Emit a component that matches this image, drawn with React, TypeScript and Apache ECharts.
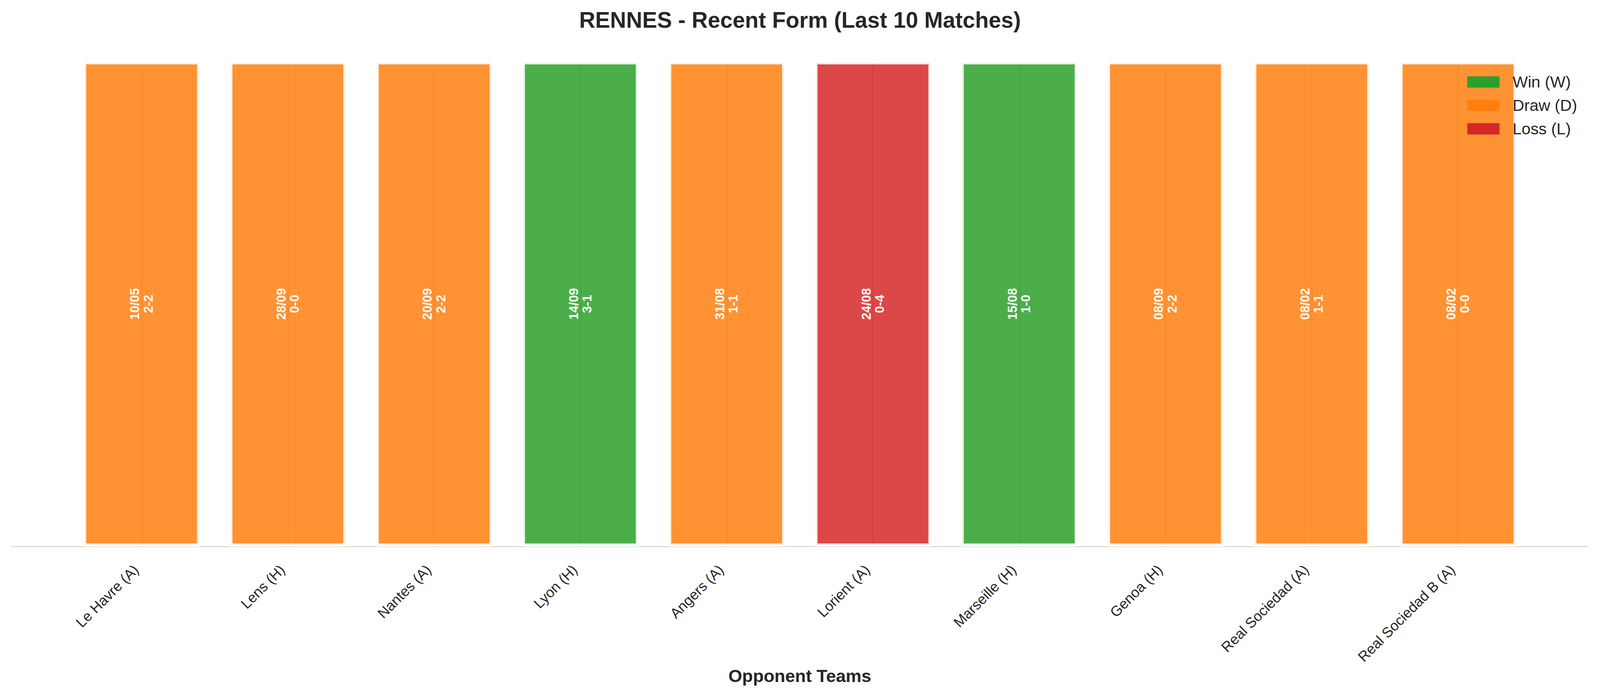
import { useEffect, useRef } from "react";
import * as echarts from "echarts";

// opponents, most recent first
const teams = [
  "Le Havre (A)",
  "Lens (H)",
  "Nantes (A)",
  "Lyon (H)",
  "Angers (A)",
  "Lorient (A)",
  "Marseille (H)",
  "Genoa (H)",
  "Real Sociedad (A)",
  "Real Sociedad B (A)",
];
const dates = ["10/05", "28/09", "20/09", "14/09", "31/08", "24/08", "15/08", "08/09", "08/02", "08/02"];
const scores = ["2-2", "0-0", "2-2", "3-1", "1-1", "0-4", "1-0", "2-2", "1-1", "0-0"];
const results = ["D", "D", "D", "W", "D", "L", "W", "D", "D", "D"];
const heights = [1, 1, 1, 1, 1, 1, 1, 1, 1, 1];

const resultKeys = ["W", "D", "L"];
const resultNames: Record<string, string> = { W: "Win (W)", D: "Draw (D)", L: "Loss (L)" };
const resultRgb: Record<string, string> = { W: "44,160,44", D: "255,127,14", L: "214,39,40" };

const FONT = "'Liberation Sans', Arial, sans-serif";
const DARK = "#262626";
const BASE_W = 4170;
const BASE_H = 1770;

const App = () => {
  const chartRef = useRef<HTMLDivElement | null>(null);
  // the window may be narrower than the 4170px design, so scale x to fit
  const width = Math.min(window.innerWidth || BASE_W, BASE_W);
  const k = width / BASE_W;

  useEffect(() => {
    if (!chartRef.current) return;
    const chart = echarts.init(chartRef.current, null, { renderer: "svg" });
    const fs = (n: number) => Math.round(n * k * 10) / 10;

    const series = resultKeys.map((key) => ({
      name: resultNames[key],
      type: "bar",
      xAxisIndex: 0,
      yAxisIndex: 0,
      barWidth: "80%",
      barGap: "-100%",
      clip: false,
      data: heights.map((h, i) => (results[i] === key ? h : null)),
      itemStyle: {
        color: `rgba(${resultRgb[key]},0.85)`,
        borderColor: "rgba(255,255,255,0.85)",
        borderWidth: 8,
      },
      label: {
        show: true,
        position: "inside",
        rotate: 90,
        align: "center",
        verticalAlign: "middle",
        color: "#ffffff",
        fontWeight: "bold",
        fontSize: fs(33),
        lineHeight: fs(35),
        fontFamily: FONT,
        formatter: (p: any) => `${dates[p.dataIndex]}\n${scores[p.dataIndex]}`,
      },
    }));

    chart.setOption({
      animation: false,
      backgroundColor: "#ffffff",
      textStyle: { fontFamily: FONT },
      title: {
        text: "RENNES - Recent Form (Last 10 Matches)",
        left: "center",
        top: 17,
        textStyle: { fontSize: fs(58), fontWeight: "bold", color: DARK, fontFamily: FONT },
      },
      legend: {
        orient: "vertical",
        left: 3819 * k,
        top: 184,
        icon: "rect",
        itemWidth: 84 * k,
        itemHeight: 29,
        itemGap: 18,
        itemStyle: { borderWidth: 0 },
        textStyle: {
          fontSize: fs(42),
          lineHeight: 42,
          color: DARK,
          fontFamily: FONT,
          padding: [0, 0, 0, 29 * k],
        },
        data: resultKeys.map((key) => ({
          name: resultNames[key],
          itemStyle: { color: `rgb(${resultRgb[key]})`, borderWidth: 0 },
        })),
      },
      grid: [
        { left: 369 * k, right: 370 * k, top: 157, bottom: 370 },
        { left: 29 * k, right: 32 * k, top: 157, bottom: 370 },
      ],
      xAxis: [
        {
          type: "category",
          gridIndex: 0,
          data: teams,
          boundaryGap: false,
          axisLine: { show: false },
          axisTick: { show: false },
          splitLine: { show: true, interval: 0, lineStyle: { color: "#cccccc", width: 3 } },
          axisLabel: {
            interval: 0,
            rotate: 45,
            margin: 39,
            fontSize: fs(37.5),
            color: DARK,
            fontFamily: FONT,
            padding: [0, 20, 0, 0],
          },
          name: "Opponent Teams",
          nameLocation: "middle",
          nameGap: 251,
          nameTextStyle: { fontSize: fs(46), fontWeight: "bold", color: DARK, fontFamily: FONT },
        },
        {
          type: "value",
          gridIndex: 1,
          min: 0,
          max: 1,
          axisLine: { show: true, lineStyle: { color: "#cccccc", width: 2 } },
          axisTick: { show: false },
          axisLabel: { show: false },
          splitLine: { show: false },
        },
      ],
      yAxis: [
        { type: "value", gridIndex: 0, min: 0, max: 1, show: false },
        { type: "value", gridIndex: 1, min: 0, max: 1, show: false },
      ],
      series,
    });

    return () => {
      chart.dispose();
    };
  }, [k]);

  return (
    <div
      ref={chartRef}
      style={{ position: "absolute", left: 0, top: 0, width, height: BASE_H }}
    />
  );
};

export default App;
